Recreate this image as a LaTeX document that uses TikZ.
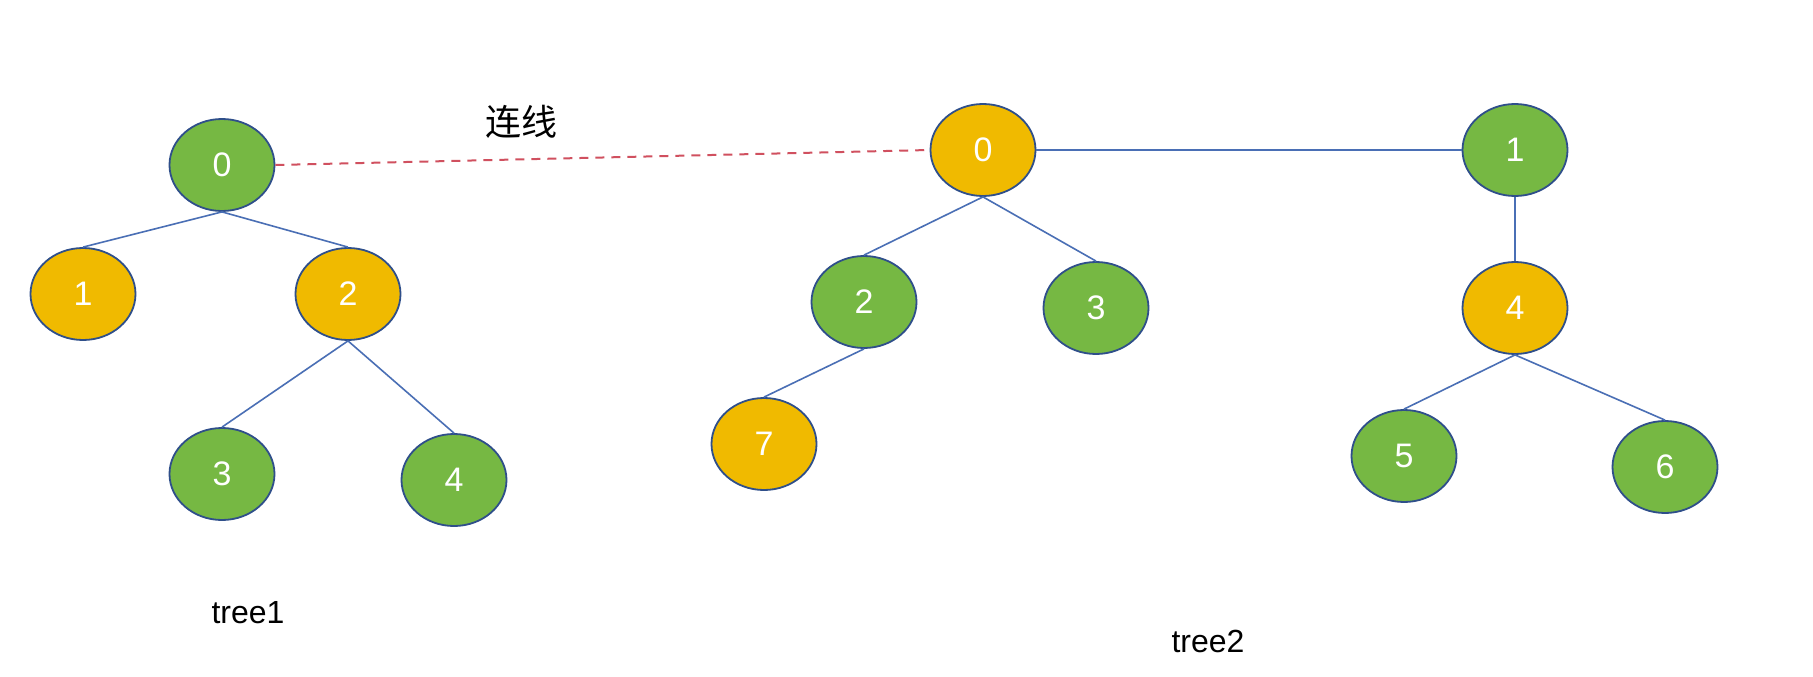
\documentclass[tikz,border=0pt]{standalone}
\usepackage{fontspec}
\setmainfont{Liberation Sans}
\newfontfamily\cjkfont{Noto Sans CJK SC}
\usetikzlibrary{shapes.geometric}

\definecolor{leafgreen}{HTML}{76B843}
\definecolor{gold}{HTML}{F0BA00}
\definecolor{rimblue}{HTML}{2F4F8A}
\definecolor{edgeblue}{HTML}{4A6FB5}
\definecolor{linkred}{HTML}{D0505F}

\tikzset{
  treenode/.style={ellipse, draw=rimblue, line width=1.8pt,
    minimum width=105pt, minimum height=92pt, inner sep=0pt,
    text=white, font=\fontsize{34}{40}\selectfont},
  gnode/.style={treenode, fill=leafgreen},
  ynode/.style={treenode, fill=gold},
  edge/.style={draw=edgeblue, line width=1.6pt},
  link/.style={draw=linkred, line width=2pt, dash pattern=on 9pt off 7pt},
  caption/.style={font=\fontsize{32}{38}\selectfont, text=black}
}

\begin{document}
\begin{tikzpicture}[x=1pt, y=-1pt]
  \useasboundingbox (0,0) rectangle (1813,677);
  \fill[white] (0,0) rectangle (1813,677);

  % first tree
  \node[gnode] (a0) at (222,165) {0};
  \node[ynode] (a1) at (83,294) {1};
  \node[ynode] (a2) at (348,294) {2};
  \node[gnode] (a3) at (222,474) {3};
  \node[gnode] (a4) at (454,480) {4};

  % second tree
  \node[ynode] (b0) at (983,150) {0};
  \node[gnode] (b1) at (1515,150) {1};
  \node[gnode] (b2) at (864,302) {2};
  \node[gnode] (b3) at (1096,308) {3};
  \node[ynode] (b7) at (764,444) {7};
  \node[ynode] (b4) at (1515,308) {4};
  \node[gnode] (b5) at (1404,456) {5};
  \node[gnode] (b6) at (1665,467) {6};

  % edges
  \draw[edge] (a0.south) -- (a1.north);
  \draw[edge] (a0.south) -- (a2.north);
  \draw[edge] (a2.south) -- (a3.north);
  \draw[edge] (a2.south) -- (a4.north);

  \draw[edge] (b0.east) -- (b1.west);
  \draw[edge] (b0.south) -- (b2.north);
  \draw[edge] (b0.south) -- (b3.north);
  \draw[edge] (b2.south) -- (b7.north);
  \draw[edge] (b1.south) -- (b4.north);
  \draw[edge] (b4.south) -- (b5.north);
  \draw[edge] (b4.south) -- (b6.north);

  % link between the two roots
  \draw[link] (a0.east) -- (b0.west);
  \node[font=\cjkfont\fontsize{36}{40}\selectfont] (lk) at (521,122) {连线};

  % captions
  \node[caption, anchor=base] (t1) at (248,623) {tree1};
  \node[caption, anchor=base] (t2) at (1208,652) {tree2};
\end{tikzpicture}
\end{document}
